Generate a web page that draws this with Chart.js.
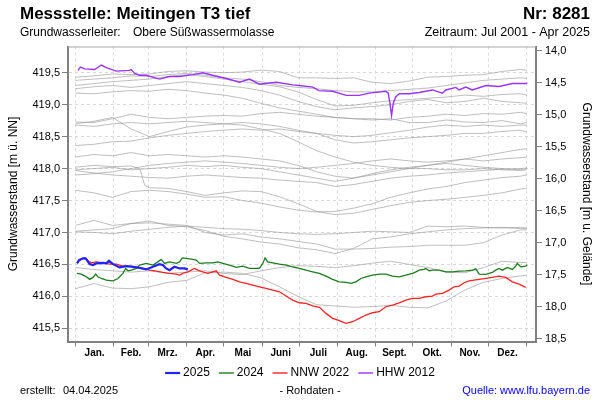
<!DOCTYPE html>
<html><head><meta charset="utf-8">
<script src="https://cdn.jsdelivr.net/npm/chart.js@4/dist/chart.umd.min.js"></script>
<style>html,body{margin:0;padding:0;background:#fff}</style>
</head><body>
<canvas id="c" width="600" height="400"></canvas>
<script>
// ---- texts ----
const titleText = 'Messstelle: Meitingen T3 tief';
const nrText = 'Nr: 8281';
const aquiferLabel = 'Grundwasserleiter:';
const aquiferText = 'Obere Süßwassermolasse';
const periodText = 'Zeitraum: Jul 2001 - Apr 2025';
const createdLabel = 'erstellt:';
const createdDate = '04.04.2025';
const rawText = '- Rohdaten -';
const sourceText = 'Quelle: www.lfu.bayern.de';
const leftTitle = 'Grundwasserstand [m ü. NN]';
const rightTitle = 'Grundwasserstand [m u. Gelände]';

// ---- axes ----
const months = ['Jan.','Feb.','Mrz.','Apr.','Mai','Juni','Juli','Aug.','Sept.','Okt.','Nov.','Dez.'];
const monthStartDays = [0,31,59,90,120,151,181,212,243,273,304,334,365];
const leftTicks = [415.5,416.0,416.5,417.0,417.5,418.0,418.5,419.0,419.5];
const rightTicks = [14.0,14.5,15.0,15.5,16.0,16.5,17.0,17.5,18.0,18.5];
const groundLevel = 433.84;
const levelMin = 415.294, levelMax = 419.91;
const dayMin = -6, dayMax = 372.5;

// ---- other years (grey) ----
const grayDays = [0,15,30,45,60,75,90,105,120,135,150,165,180,195,210,225,240,255,270,285,300,315,330,345,360,365];
const gray01 = [419.43,419.45,419.48,419.47,419.48,419.52,419.53,419.51,419.50,419.51,419.54,419.52,419.42,419.42,419.41,419.42,419.35,419.33,419.37,419.43,419.44,419.46,419.47,419.52,419.55,419.54];
const gray02 = [419.38,419.40,419.42,419.45,419.44,419.47,419.49,419.46,419.42,419.40,419.36,419.30,419.27,419.25,419.22,419.20,419.20,419.22,419.24,419.26,419.30,419.34,419.38,419.40,419.42,419.41];
const gray03 = [419.30,419.33,419.36,419.38,419.40,419.44,419.47,419.44,419.40,419.36,419.32,419.28,419.20,419.08,418.98,418.99,419.03,419.06,419.08,419.10,419.12,419.15,419.13,419.16,419.17,419.15];
const gray04 = [419.25,419.28,419.30,419.27,419.30,419.33,419.36,419.33,419.30,419.27,419.22,419.15,419.05,418.97,418.92,418.95,418.97,419.00,419.05,419.08,419.03,419.05,419.10,419.05,419.03,419.02];
const gray05 = [419.18,419.17,419.20,419.22,419.21,419.24,419.22,419.18,419.15,419.10,419.02,418.95,418.90,418.85,418.80,418.78,418.78,418.76,418.80,418.82,418.85,418.83,418.86,418.85,418.88,418.86];
const gray06 = [418.73,418.72,418.78,418.85,418.80,418.78,418.80,418.82,418.83,418.82,418.86,418.88,418.85,418.82,418.80,418.78,418.76,418.78,418.72,418.72,418.76,418.73,418.72,418.75,418.70,418.72];
const gray07 = [418.70,418.74,418.80,418.62,418.50,418.58,418.65,418.68,418.70,418.72,418.70,418.66,418.60,418.55,418.52,418.50,418.52,418.56,418.60,418.65,418.68,418.66,418.68,418.66,418.68,418.68];
const gray08 = [418.68,418.66,418.70,418.72,418.70,418.72,418.74,418.72,418.70,418.68,418.62,418.55,418.42,418.28,418.18,418.10,418.05,418.02,418.00,418.00,417.98,417.98,418.00,417.98,417.97,417.98];
const gray09 = [418.36,418.38,418.42,418.43,418.48,418.52,418.55,418.58,418.60,418.62,418.60,418.62,418.58,418.55,418.45,418.40,418.42,418.45,418.48,418.50,418.52,418.55,418.55,418.58,418.60,418.57];
const gray10 = [418.18,418.22,418.20,418.25,418.20,418.22,418.20,418.18,418.20,418.18,418.15,418.12,418.05,417.95,417.88,417.85,417.90,417.95,418.00,418.05,418.10,418.15,418.20,418.25,418.30,418.31];
const gray12 = [417.98,418.00,418.02,417.98,418.00,418.02,418.05,418.03,418.05,418.02,418.00,417.95,417.90,417.85,417.80,417.85,417.92,417.98,418.02,418.05,418.08,418.05,418.02,418.00,417.98,418.00];
const gray13 = [417.97,417.93,417.90,417.88,417.86,417.85,417.88,417.90,417.88,417.86,417.85,417.82,417.80,417.78,417.72,417.75,417.80,417.85,417.88,417.90,417.93,417.95,417.97,417.99,418.00,418.01];
const gray14 = [417.90,417.92,417.95,418.00,418.05,418.08,418.10,418.12,418.10,418.08,418.05,418.02,418.00,418.02,418.05,418.08,418.12,418.15,418.12,418.10,418.12,418.15,418.12,418.15,418.17,418.18];
const gray15 = [417.66,417.62,417.55,417.64,417.66,417.64,417.60,417.55,417.56,417.50,417.46,417.40,417.35,417.32,417.33,417.38,417.45,417.55,417.62,417.68,417.72,417.78,417.82,417.86,417.88,417.90];
const gray16 = [417.11,417.19,417.11,417.14,417.18,417.11,417.09,417.03,416.94,416.90,416.85,416.82,416.76,416.73,416.67,416.75,416.90,416.93,416.98,417.01,417.04,417.06,417.07,417.08,417.06,417.06];
const gray17 = [417.02,417.04,417.06,417.14,417.15,417.13,417.11,417.00,416.96,416.98,416.93,416.90,416.86,416.82,416.74,416.74,416.75,416.77,416.78,416.80,416.80,416.80,416.84,416.96,417.04,417.04];
const gray18 = [417.01,417.00,416.98,417.02,417.05,417.08,417.10,417.08,417.06,417.05,417.03,417.00,416.98,416.97,416.98,417.00,417.02,417.01,417.00,417.10,417.09,417.10,417.08,417.07,417.08,417.07];
const gray19 = [416.12,416.20,416.13,416.12,416.15,416.22,416.25,416.37,416.38,416.36,416.29,416.15,416.00,415.87,415.85,415.83,415.84,415.86,415.83,415.82,415.93,416.10,416.22,416.28,416.32,416.33];
const gray20 = [416.45,416.42,416.40,416.38,416.40,416.36,416.38,416.40,416.36,416.34,416.40,416.45,416.48,416.47,416.45,416.48,416.52,416.55,416.50,416.45,416.38,416.37,416.45,416.55,416.53,416.53];
const gray11Days = [0,15,30,45,52,56,60,75,90,105,120,135,150,165,180,195,210,225,240,255,270,285,300,315,330,345,360,365];
const gray11 = [418.02,418.05,418.03,418.04,418.00,417.74,417.70,417.69,417.64,417.58,417.62,417.65,417.64,417.56,417.45,417.33,417.28,417.30,417.36,417.42,417.47,417.50,417.52,417.55,417.58,417.62,417.68,417.69];

// ---- highlighted years ----
const days2025 = [1.3,2.9,6.1,8.3,11.5,14.2,16.9,22.3,25,27.1,30.4,35.7,41.2,46.5,51.9,57.3,62.7,68,70.7,73.4,76.1,80.1,84.2,88.2,90.9];
const lvl2025 = [416.516,416.568,416.594,416.594,416.505,416.49,416.516,416.525,416.516,416.557,416.505,416.453,416.474,416.463,416.447,416.422,416.463,416.505,416.49,416.437,416.41,416.463,416.437,416.437,416.422];

const days2024 = [1.3,4.8,8.9,11.5,14.2,16.4,18.2,21,25,30.4,34.4,38.4,40.6,42.5,45.2,49.3,51.9,57.3,62.7,66.7,69.4,72.1,76.1,81.6,84.2,86.4,89.6,95,97.7,100.4,105.8,111.1,115.2,119.2,124.6,130,135.3,140.8,148.8,151.5,153.4,155.5,159.6,165,170.4,175.7,181.1,186.5,191.9,197.3,202.7,208,213.4,218.8,222.9,226.9,230.9,235,240.3,245.7,251.1,256.5,261.9,267.3,272.6,275.4,278,282.1,283.4,286.1,288.8,294.2,299.6,305,310.3,315.7,321.1,323.8,326.5,331.9,337.2,339.9,342.6,345.3,349.3,353.4,356.1,357.4,360.1,364.2,365.5];
const lvl2024 = [416.36,416.348,416.306,416.266,416.297,416.348,416.306,416.28,416.255,416.244,416.28,416.36,416.437,416.4,416.411,416.437,416.489,416.516,416.489,416.54,416.578,416.516,416.54,416.516,416.54,416.603,416.594,416.578,416.567,416.516,416.525,416.525,416.54,416.516,416.489,416.453,416.473,416.437,416.437,416.516,416.603,416.54,416.525,416.505,416.489,416.462,416.44,416.41,416.384,416.36,416.317,416.266,416.228,416.219,416.203,416.228,416.28,416.306,416.333,416.348,416.348,416.317,416.306,416.333,416.36,416.384,416.411,416.422,416.437,416.4,416.411,416.411,416.384,416.384,416.395,416.4,416.411,416.431,416.348,416.344,416.375,416.411,416.437,416.41,416.453,416.422,416.473,416.516,416.462,416.473,416.49];

const daysNNW2022 = [1.3,3.5,7.5,10.2,12.9,17,22.3,27.7,33.1,38.4,43.8,49.3,54.6,60,65.4,70.7,76.1,81.6,84.2,86.9,90.9,93.7,96.3,99,103,107.1,111.1,113.9,116.5,121.9,127.3,132.7,138.1,143.4,148.8,154.2,159.6,165,170.4,175.7,181.1,186.5,191.9,197.3,202.7,208,213.4,218.8,224.2,229.6,235,240.3,245.7,251.1,256.5,261.9,267.3,272.6,278,283.4,288.8,291.5,296.8,302.2,306.3,310.3,314.4,318.4,322.4,326.5,331.9,337.2,342.6,348,353.4,358.8,364.2];
const lvlNNW2022 = [416.525,416.567,416.603,416.556,416.525,416.54,416.525,416.505,416.505,416.473,416.473,416.462,416.437,416.41,416.395,416.375,416.36,416.348,416.333,416.36,416.384,416.41,416.437,416.41,416.384,416.36,416.384,416.4,416.333,416.297,416.266,416.228,416.203,416.177,416.15,416.125,416.098,416.072,416.005,415.942,415.9,415.89,415.85,415.828,415.734,415.656,415.619,415.578,415.603,415.656,415.708,415.744,415.76,415.838,415.864,415.9,415.942,415.969,415.969,415.994,416.005,416.036,416.047,416.098,416.15,416.16,416.213,416.244,416.255,416.266,416.281,416.297,416.317,416.297,416.228,416.192,416.14];

const daysHHW2012 = [2.1,4,7.5,15.6,21,25,33,43.8,45.2,47.9,51.9,57.3,68,76,84,95,103,111,122,132.7,140.8,148.8,162.3,175.7,181,192,197,208,219,229.6,237.6,251,253,254.4,255.7,257,259,262,270,278,288.8,296.8,299.6,307.7,310.3,315.7,321,332,342.6,353.4,364.2,365.5];
const lvlHHW2012 = [419.536,419.588,419.56,419.55,419.62,419.58,419.525,419.536,419.55,419.49,419.46,419.46,419.40,419.44,419.44,419.47,419.50,419.46,419.41,419.35,419.40,419.32,419.35,419.31,419.30,419.275,419.22,419.21,419.145,419.145,419.18,419.21,419.18,419.02,418.83,419.02,419.12,419.17,419.17,419.19,419.23,419.18,419.23,419.27,419.23,419.275,419.23,419.30,419.285,419.33,419.33,419.34];

const GRAY = 'rgba(150,150,150,0.62)';
const C2025 = '#2222ff', C2024 = '#1c7d1c', CNNW = '#ff2222', CHHW = '#9a33ff';

function pts(days, vals){ return days.map((d,i)=>({x:d, y:vals[i]})); }

const datasets = [];
datasets.push({label:'2025', data: pts(days2025,lvl2025), borderColor:C2025, borderWidth:2.2, order:0});
datasets.push({label:'2024', data: pts(days2024,lvl2024), borderColor:C2024, borderWidth:1.3, order:1});
datasets.push({label:'NNW 2022', data: pts(daysNNW2022,lvlNNW2022), borderColor:CNNW, borderWidth:1.3, order:2});
datasets.push({label:'HHW 2012', data: pts(daysHHW2012,lvlHHW2012), borderColor:CHHW, borderWidth:1.4, order:3});
[gray01,gray02,gray03,gray04,gray05,gray06,gray07,gray08,gray09,gray10,gray12,gray13,gray14,gray15,gray16,gray17,gray18,gray19,gray20].forEach(v=>{
  datasets.push({label:'', data: pts(grayDays,v), borderColor:GRAY, borderWidth:1, order:10});
});
datasets.push({label:'', data: pts(gray11Days,gray11), borderColor:GRAY, borderWidth:1, order:10});
datasets.forEach(d=>{d.pointRadius=0; d.tension=0; d.fill=false;});

const legendItems = [
  {text:'2025', color:C2025, width:2.2},
  {text:'2024', color:C2024, width:1.4},
  {text:'NNW 2022', color:CNNW, width:1.4},
  {text:'HHW 2012', color:CHHW, width:1.4}
];

const FONT = '"Liberation Sans", Arial, sans-serif';
const fmt = v => v.toFixed(1).replace('.', ',');

const decor = {
  id:'decor',
  afterDraw(chart){
    const {ctx, chartArea:a} = chart;
    ctx.save();
    ctx.strokeStyle = '#a8a8a8'; ctx.lineWidth = 1;
    ctx.beginPath(); ctx.moveTo(a.left, a.top + 0.5); ctx.lineTo(a.right, a.top + 0.5); ctx.stroke();
    ctx.fillStyle = '#000'; ctx.textBaseline = 'middle';
    ctx.font = 'bold 17px ' + FONT;
    ctx.textAlign = 'left'; ctx.fillText(titleText, 20, 14);
    ctx.textAlign = 'right'; ctx.fillText(nrText, 590, 14);
    ctx.font = '12px ' + FONT;
    ctx.textAlign = 'left'; ctx.fillText(aquiferLabel, 20, 33); ctx.fillText(aquiferText, 133, 33);
    ctx.font = '12.5px ' + FONT;
    ctx.textAlign = 'right'; ctx.fillText(periodText, 590, 33);
    // legend
    ctx.font = '12px ' + FONT; ctx.textAlign = 'left';
    const lineLen = 15, gap1 = 3, gap2 = 9;
    let total = 0;
    legendItems.forEach((it,i)=>{ total += lineLen + gap1 + ctx.measureText(it.text).width + (i < legendItems.length-1 ? gap2 : 0); });
    let x = 300 - total/2; const ly = 373;
    legendItems.forEach(it=>{
      ctx.strokeStyle = it.color; ctx.lineWidth = it.width;
      ctx.beginPath(); ctx.moveTo(x, ly); ctx.lineTo(x + lineLen, ly); ctx.stroke();
      x += lineLen + gap1;
      ctx.fillStyle = '#000'; ctx.fillText(it.text, x, ly);
      x += ctx.measureText(it.text).width + gap2;
    });
    // footer
    ctx.font = '11px ' + FONT; ctx.fillStyle = '#000';
    ctx.textAlign = 'left'; ctx.fillText(createdLabel, 20, 391); ctx.fillText(createdDate, 63, 391);
    ctx.textAlign = 'center'; ctx.fillText(rawText, 310, 391);
    ctx.textAlign = 'right'; ctx.fillStyle = '#0000ff'; ctx.fillText(sourceText, 590, 391);
    ctx.restore();
  }
};

new Chart(document.getElementById('c'), {
  type:'line',
  data:{datasets},
  plugins:[decor],
  options:{
    responsive:false, animation:false,
    layout:{padding:{left:0,right:0,top:46.5,bottom:36.5}},
    plugins:{legend:{display:false}, tooltip:{enabled:false}},
    scales:{
      x:{type:'linear', position:'bottom', min:dayMin, max:dayMax,
        afterBuildTicks: s => { s.ticks = monthStartDays.map(v=>({value:v})); },
        afterFit: s => { s.height = 6; },
        ticks:{callback:()=> '', autoSkip:false, maxRotation:0},
        grid:{color:'#d9d9d9', lineWidth:1, tickColor:'#808080', tickLength:5, tickWidth:1, tickBorderDash:[]},
        border:{display:true, color:'#808080', width:2, dash:[3,3]}
      },
      xm:{type:'linear', axis:'x', position:'bottom', min:dayMin, max:dayMax,
        afterBuildTicks: s => { s.ticks = months.map((m,i)=>({value:(monthStartDays[i]+monthStartDays[i+1])/2})); },
        afterFit: s => { s.height = 16; },
        ticks:{autoSkip:false, maxRotation:0, minRotation:0, padding:0, color:'#000', font:{family:FONT, size:10, weight:'bold'},
          callback:(v, i)=> months[i]},
        grid:{display:false, drawTicks:false}, border:{display:false}
      },
      y:{type:'linear', position:'left', min:levelMin, max:levelMax,
        afterBuildTicks: s => { s.ticks = leftTicks.map(v=>({value:v})); },
        afterFit: s => { s.width = 68; },
        ticks:{callback: v => fmt(v), color:'#000', font:{family:FONT, size:11}, padding:2},
        grid:{color:'#d9d9d9', lineWidth:1, tickColor:'#808080', tickLength:6, tickWidth:1, tickBorderDash:[]},
        border:{display:true, color:'#808080', width:2, dash:[3,3]},
        title:{display:true, text:leftTitle, color:'#000', font:{family:FONT, size:12}, padding:{top:6, bottom:0}}
      },
      y2:{type:'linear', axis:'y', position:'right', reverse:true, min:groundLevel-levelMax, max:groundLevel-levelMin,
        afterBuildTicks: s => { s.ticks = rightTicks.map(v=>({value:v})); },
        afterFit: s => { s.width = 64; },
        ticks:{callback: v => fmt(v), color:'#000', font:{family:FONT, size:11}, padding:3},
        grid:{drawOnChartArea:false, tickColor:'#808080', tickLength:6, tickWidth:1, tickBorderDash:[]},
        border:{display:true, color:'#808080', width:2},
        title:{display:true, text:rightTitle, color:'#000', font:{family:FONT, size:12}, padding:{top:6, bottom:0}}
      }
    }
  }
});
</script>
</body></html>
